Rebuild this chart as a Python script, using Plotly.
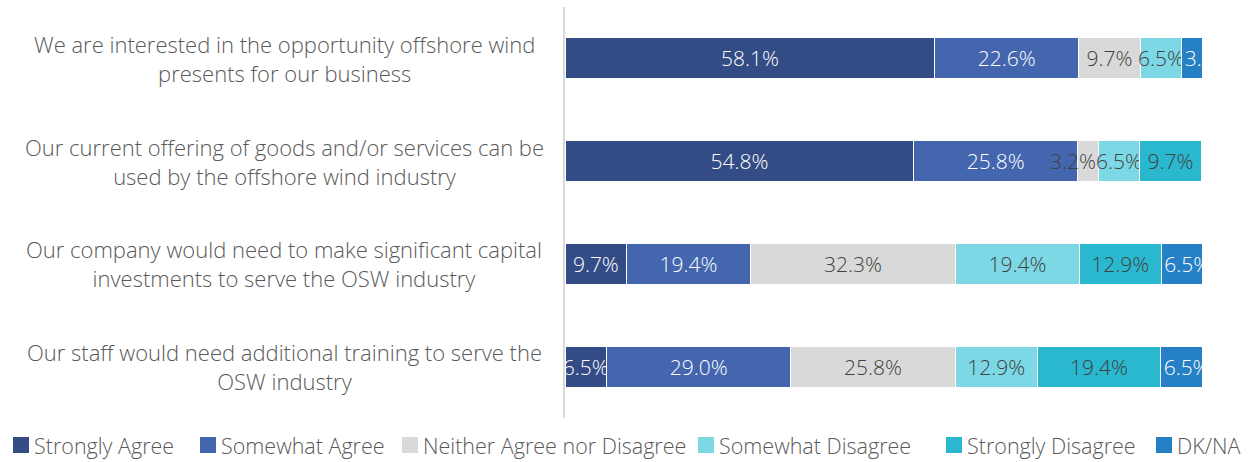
import plotly.graph_objects as go

categories = [
    "We are interested in the opportunity offshore wind<br>presents for our business",
    "Our current offering of goods and/or services can be<br>used by the offshore wind industry",
    "Our company would need to make significant capital<br>investments to serve the OSW industry",
    "Our staff would need additional training to serve the<br>OSW industry",
]
cat_ids = ["q1", "q2", "q3", "q4"]

series_names = ["Strongly Agree", "Somewhat Agree", "Neither Agree nor Disagree",
                "Somewhat Disagree", "Strongly Disagree", "DK/NA"]
strongly_agree = [58.1, 54.8, 9.7, 6.5]
somewhat_agree = [22.6, 25.8, 19.4, 29.0]
neither = [9.7, 3.2, 32.3, 25.8]
somewhat_disagree = [6.5, 6.5, 19.4, 12.9]
strongly_disagree = [0.0, 9.7, 12.9, 19.4]
dk_na = [3.2, 0.0, 6.5, 6.5]
series_values = [strongly_agree, somewhat_agree, neither,
                 somewhat_disagree, strongly_disagree, dk_na]

colors = ["#344C85", "#4466AE", "#D9D9D9", "#7DD8E6", "#2AB8CF", "#2680C5"]
text_colors = ["#FFFFFF", "#FFFFFF", "#404040", "#404040", "#404040", "#FFFFFF"]
text_anchors = ["middle", "middle", "middle", "middle", "middle", "start"]

FONT = "Open Sans"
GRAY = "#595959"
NARROW = 4.0  # segments narrower than this get their label pushed to the segment end

# figure geometry (pixels)
W, H = 1251, 462
ML, MR, MT, MB = 565, 49, 7, 44
PW, PH = W - ML - MR, H - MT - MB


def px_to_paper_x(px):
    return (px - ML) / PW


def px_to_paper_y(py):
    return (H - MB - py) / PH


fig = go.Figure()
cum = [0.0] * len(cat_ids)
for name, vals, col, tcol, anc in zip(series_names, series_values, colors,
                                      text_colors, text_anchors):
    labels = []
    for i, v in enumerate(vals):
        if v <= 0:
            labels.append("")
        elif anc == "middle" and v < NARROW:
            labels.append("")
            fig.add_annotation(
                x=cum[i] + v, xref="x", y=cat_ids[i], yref="y",
                text=f"{v:.1f}%", showarrow=False, xanchor="right", yanchor="middle",
                font=dict(family=FONT, size=21, color=tcol, weight=300),
            )
        else:
            labels.append(f"{v:.1f}%")
    fig.add_trace(go.Bar(
        y=cat_ids, x=vals, name=name, orientation="h",
        marker=dict(color=col, line=dict(color="#FFFFFF", width=1)),
        text=labels,
        textposition="inside", insidetextanchor=anc,
        constraintext="none", textangle=0,
        textfont=dict(family=FONT, size=21, color=tcol, weight=300),
        hoverinfo="skip", showlegend=False,
    ))
    cum = [c + v for c, v in zip(cum, vals)]

for cid, label in zip(cat_ids, categories):
    fig.add_annotation(
        x=-0.441, xref="paper", y=cid, yref="y",
        text=label, showarrow=False, xanchor="center", yanchor="middle",
        align="center", font=dict(family=FONT, size=22, color=GRAY, weight=300),
    )

# legend row: coloured squares with series names beneath the chart
legend_left_px = [13, 200, 402, 698, 946, 1156]
LEG_Y = 445
SQ = 16
for name, col, lx in zip(series_names, colors, legend_left_px):
    fig.add_shape(
        type="rect", xref="paper", yref="paper",
        x0=px_to_paper_x(lx), x1=px_to_paper_x(lx + SQ),
        y0=px_to_paper_y(LEG_Y + SQ / 2), y1=px_to_paper_y(LEG_Y - SQ / 2),
        fillcolor=col, line=dict(width=0),
    )
    fig.add_annotation(
        x=px_to_paper_x(lx + SQ + 3), xref="paper",
        y=px_to_paper_y(LEG_Y), yref="paper",
        text=name, showarrow=False, xanchor="left", yanchor="middle",
        font=dict(family=FONT, size=21.5, color=GRAY, weight=300),
    )

fig.update_layout(
    width=W, height=H,
    margin=dict(l=ML, r=MR, t=MT, b=MB),
    barmode="stack", bargap=0.6,
    plot_bgcolor="white", paper_bgcolor="white",
    showlegend=False,
    xaxis=dict(range=[0, 100.1], visible=False, fixedrange=True),
    yaxis=dict(autorange="reversed", showticklabels=False, showgrid=False,
               showline=True, linecolor="#D9D9D9", linewidth=2, zeroline=False,
               ticks=""),
)

fig.write_html("out.html")
